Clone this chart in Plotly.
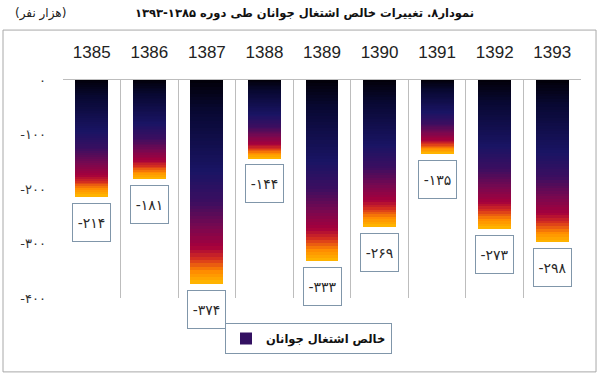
import plotly.graph_objects as go

# ---------------- data ----------------
years = ["1385", "1386", "1387", "1388", "1389", "1390", "1391", "1392", "1393"]
net_youth_employment = [-214, -181, -374, -144, -333, -269, -135, -273, -298]
y_tick_values = [0, -100, -200, -300, -400]

series_name = "خالص اشتغال جوانان"
title_text = "نمودار۸. تغییرات خالص اشتغال جوانان طی دوره ۱۳۸۵-۱۳۹۳"
unit_text = "(هزار نفر)"

FA_DIGITS = "۰۱۲۳۴۵۶۷۸۹"


def fa(n):
    s = "".join(FA_DIGITS[int(c)] for c in str(abs(int(n))))
    return ("-" + s) if n < 0 else s


# gradient stops (fraction from top of bar -> colour)
STOPS = [
    (0.00, (2, 0, 8)),
    (0.15, (8, 8, 50)),
    (0.45, (26, 20, 100)),
    (0.60, (60, 14, 96)),
    (0.72, (120, 8, 80)),
    (0.82, (165, 0, 60)),
    (0.88, (215, 50, 30)),
    (0.94, (255, 140, 0)),
    (1.00, (255, 185, 0)),
]


def color_at(t):
    for (t0, c0), (t1, c1) in zip(STOPS[:-1], STOPS[1:]):
        if t0 <= t <= t1:
            f = (t - t0) / (t1 - t0)
            r, g, b = (round(a + (bb - a) * f) for a, bb in zip(c0, c1))
            return f"rgb({r},{g},{b})"
    return "rgb(%d,%d,%d)" % STOPS[-1][1]


N = 60
LEGEND_K = int(N * 0.55)
AR_FONT = "DejaVu Sans"

fig = go.Figure()
for k in range(N):
    t = (k + 0.5) / N
    fig.add_trace(go.Bar(
        x=years,
        y=[v / N for v in net_youth_employment],
        width=0.57,
        marker=dict(color=color_at(t), line=dict(width=0)),
        name=series_name,
        showlegend=(k == LEGEND_K),
        hoverinfo="skip",
    ))

annotations = []
for i, v in enumerate(net_youth_employment):
    annotations.append(dict(
        x=i, y=v, xref="x", yref="y",
        text=fa(v), showarrow=False,
        yanchor="top", yshift=-6,
        width=33, height=33, borderpad=2,
        bordercolor="#8096aa", borderwidth=1, bgcolor="white",
        font=dict(size=14, color="#2a2a2a", family=AR_FONT),
    ))

# unit label (top-left) and chart title
annotations.append(dict(
    x=-0.044, y=1.307, xref="paper", yref="paper",
    text=unit_text, showarrow=False, xanchor="center", yanchor="middle",
    font=dict(size=12, color="#222222", family=AR_FONT),
))
annotations.append(dict(
    x=0.467, y=1.307, xref="paper", yref="paper",
    text=title_text, showarrow=False, xanchor="center", yanchor="middle",
    font=dict(size=11.5, color="#111111", family=AR_FONT, weight="bold"),
))

fig.update_layout(
    width=600, height=375,
    margin=dict(l=63, r=19, t=80, b=77),
    paper_bgcolor="white", plot_bgcolor="white",
    barmode="stack",
    xaxis=dict(type="category", side="top", tickson="boundaries",
               range=[-0.5, len(years) - 0.5],
               showgrid=True, gridcolor="#bdbdbd", gridwidth=1,
               showline=True, linecolor="#bdbdbd", linewidth=1,
               ticks="", ticklabelstandoff=14,
               tickfont=dict(size=17, color="#222222",
                             family="Liberation Sans Narrow, Arial Narrow, Liberation Sans")),
    yaxis=dict(range=[-400, 0], tickvals=y_tick_values,
               ticktext=[fa(v) for v in y_tick_values],
               showgrid=False, zeroline=False, showline=False, ticks="",
               ticklabelstandoff=16,
               tickfont=dict(size=13, color="#333333", family=AR_FONT)),
    legend=dict(x=0.3127, y=-0.1147, xanchor="left", yanchor="top",
                orientation="h", bordercolor="#8096aa", borderwidth=1,
                bgcolor="white",
                font=dict(size=11.5, color="#111111", family=AR_FONT, weight="bold")),
    annotations=annotations,
    shapes=[dict(type="rect", xref="paper", yref="paper",
                 x0=-0.1158, x1=1.029, y0=-0.339, y1=1.229,
                 line=dict(color="#a8a8a8", width=1), fillcolor="rgba(0,0,0,0)",
                 layer="below")],
    showlegend=True,
)

fig.write_html("out.html")
